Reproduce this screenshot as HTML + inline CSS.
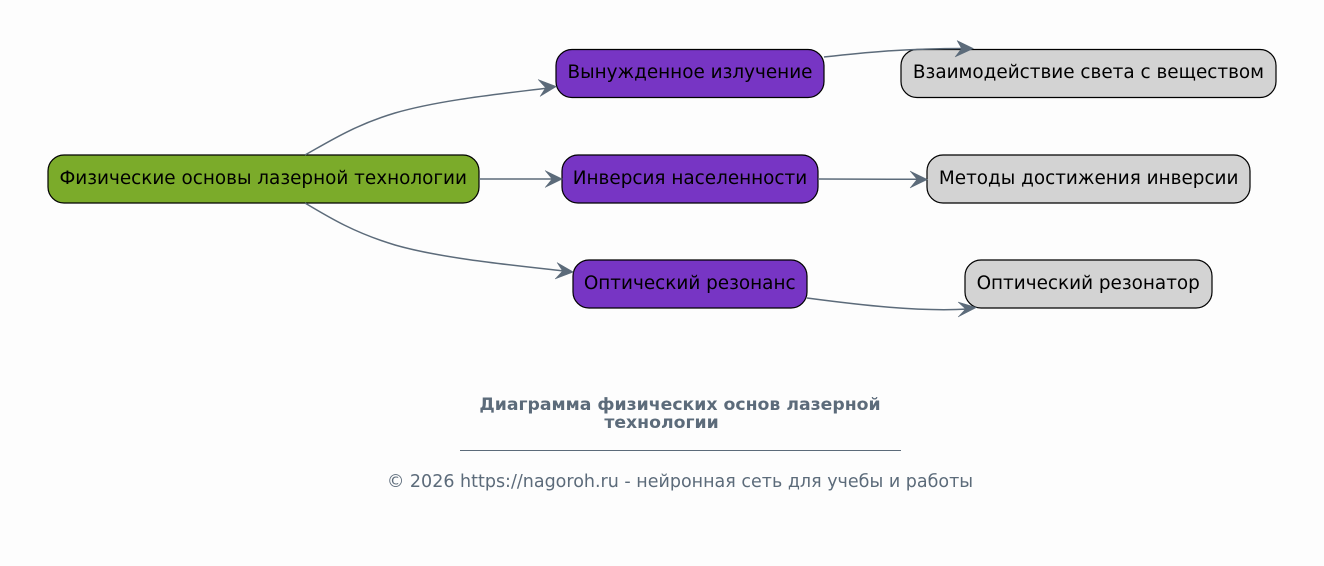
<!DOCTYPE html>
<html><head><meta charset="utf-8">
<style>
html,body{margin:0;padding:0;background:#fdfdfd;width:1324px;height:566px;overflow:hidden}
svg{display:block}
text{font-family:"DejaVu Sans",sans-serif}
.n{font-size:18.4px;fill:#000;text-anchor:middle}
.e{fill:none;stroke:#5c6b7a;stroke-width:1.5}
.a{fill:#5c6b7a;stroke:#5c6b7a;stroke-width:.5;stroke-linejoin:miter}
.b{stroke:#000;stroke-width:1.2}
</style></head><body>
<svg width="1324" height="566" viewBox="0 0 1324 566" xmlns="http://www.w3.org/2000/svg">
<rect width="1324" height="566" fill="#fdfdfd"/>
<rect class="b" x="48" y="155" width="431" height="48" rx="16" fill="#7bab2a"/>
<rect class="b" x="556" y="49.500" width="268" height="48" rx="16" fill="#7735c4"/>
<rect class="b" x="562" y="155" width="256" height="48" rx="16" fill="#7735c4"/>
<rect class="b" x="573" y="260" width="234" height="48" rx="16" fill="#7735c4"/>
<rect class="b" x="901" y="49.500" width="375" height="48" rx="16" fill="#d3d3d3"/>
<rect class="b" x="927" y="155" width="323" height="48" rx="16" fill="#d3d3d3"/>
<rect class="b" x="965" y="260" width="247" height="48" rx="16" fill="#d3d3d3"/>
<path class="e" d="M305 155C330 141 355 125 395 113C440 100 500 94 548 88"/>
<path class="a" d="M556.500 86.500L538 79.500L545.500 87.800L540 96.500Z"/>
<path class="e" d="M479 179H554"/>
<path class="a" d="M562.500 179L545 170.500L552 179L545 187.500Z"/>
<path class="e" d="M305 203C330 218 355 233 395 245C440 258 510 265 564 271"/>
<path class="a" d="M573.500 272L557 262.500L562.500 271L555 279Z"/>
<path class="e" d="M824 57C860 53 900 48.500 964 48.500"/>
<path class="a" d="M973.500 48.500L957 40.500L961.500 48.500L955 57Z"/>
<path class="e" d="M818 179L919 179.300"/>
<path class="a" d="M927.500 179.500L910 171L917 179.300L910 188Z"/>
<path class="e" d="M807 298C860 305 920 312 968 309"/>
<path class="a" d="M976.500 307.500L958 302L965.500 309L958 317Z"/>
<text class="n" x="263.200" y="184">Физические основы лазерной технологии</text>
<text class="n" x="690" y="78">Вынужденное излучение</text>
<text class="n" x="690" y="184">Инверсия населенности</text>
<text class="n" x="689.700" y="289">Оптический резонанс</text>
<text class="n" x="1088.500" y="78">Взаимодействие света с веществом</text>
<text class="n" x="1088.700" y="184">Методы достижения инверсии</text>
<text class="n" x="1088.200" y="289">Оптический резонатор</text>
<text x="680" y="410" text-anchor="middle" font-size="17.28" font-weight="bold" fill="#5c6b7a">Диаграмма физических основ лазерной</text>
<text x="661.500" y="428" text-anchor="middle" font-size="17.28" font-weight="bold" fill="#5c6b7a">технологии</text>
<rect x="460" y="450" width="441" height="1" fill="#5c6b7a"/>
<text x="680" y="487" text-anchor="middle" font-size="17.5" fill="#5c6b7a">© 2026 https://nagoroh.ru - нейронная сеть для учебы и работы</text>
</svg>
</body></html>
